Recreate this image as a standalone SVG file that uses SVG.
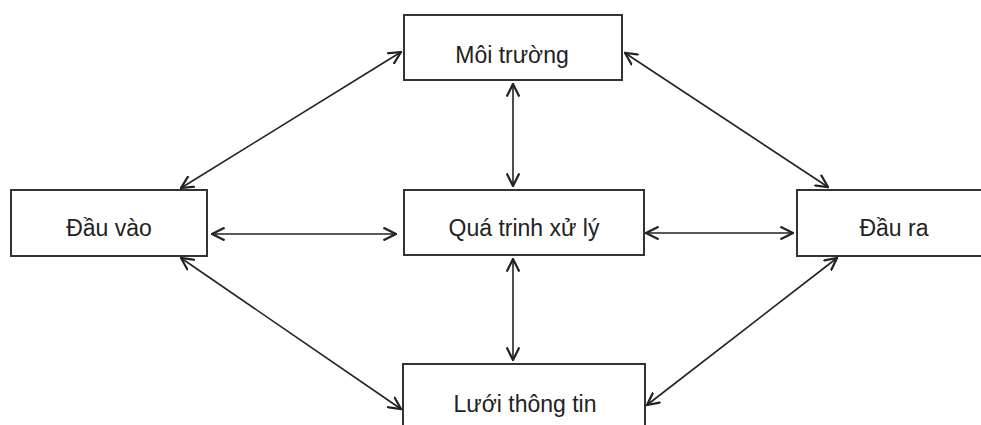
<svg xmlns="http://www.w3.org/2000/svg" width="981" height="425" viewBox="0 0 981 425">
<style>
.box{fill:#fff;stroke:#333;stroke-width:2}
.lbl{font-family:"Liberation Sans",Arial,sans-serif;font-size:23px;fill:#222;text-anchor:middle}
.con{stroke:#222;stroke-width:1.6;fill:none;marker-start:url(#ah);marker-end:url(#ah)}
</style>
<defs>
<marker id="ah" markerUnits="userSpaceOnUse" markerWidth="14" markerHeight="14" refX="9" refY="5" orient="auto-start-reverse" viewBox="0 0 10 10">
<path d="M0,0.5 L9,5 L0,9.5" fill="none" stroke="#222" stroke-width="1.6"/>
</marker>
</defs>
<rect width="981" height="425" fill="#fff"/>
<g id="moi-truong"><rect class="box" x="404" y="15" width="218" height="65"/><text class="lbl" x="512" y="63">Môi trường</text></g>
<g id="dau-vao"><rect class="box" x="11" y="190" width="196" height="66"/><text class="lbl" x="109" y="236">Đầu vào</text></g>
<g id="qua-trinh"><rect class="box" x="404" y="190" width="240" height="65"/><text class="lbl" x="524" y="236">Quá trinh xử lý</text></g>
<g id="dau-ra"><rect class="box" x="797" y="190" width="200" height="66"/><text class="lbl" x="894" y="236">Đầu ra</text></g>
<g id="luoi-thong-tin"><rect class="box" x="403" y="364" width="242" height="80"/><text class="lbl" x="525" y="412">Lưới thông tin</text></g>
<g id="connectors">
<line class="con" x1="401" y1="52" x2="181" y2="188"/>
<line class="con" x1="625" y1="53" x2="828" y2="187"/>
<line class="con" x1="513" y1="84" x2="513" y2="186"/>
<line class="con" x1="212" y1="234" x2="396" y2="234"/>
<line class="con" x1="646" y1="233" x2="793" y2="233"/>
<line class="con" x1="513" y1="259" x2="513" y2="360"/>
<line class="con" x1="181" y1="258" x2="401" y2="409"/>
<line class="con" x1="837" y1="258" x2="647" y2="405"/>
</g>
</svg>
